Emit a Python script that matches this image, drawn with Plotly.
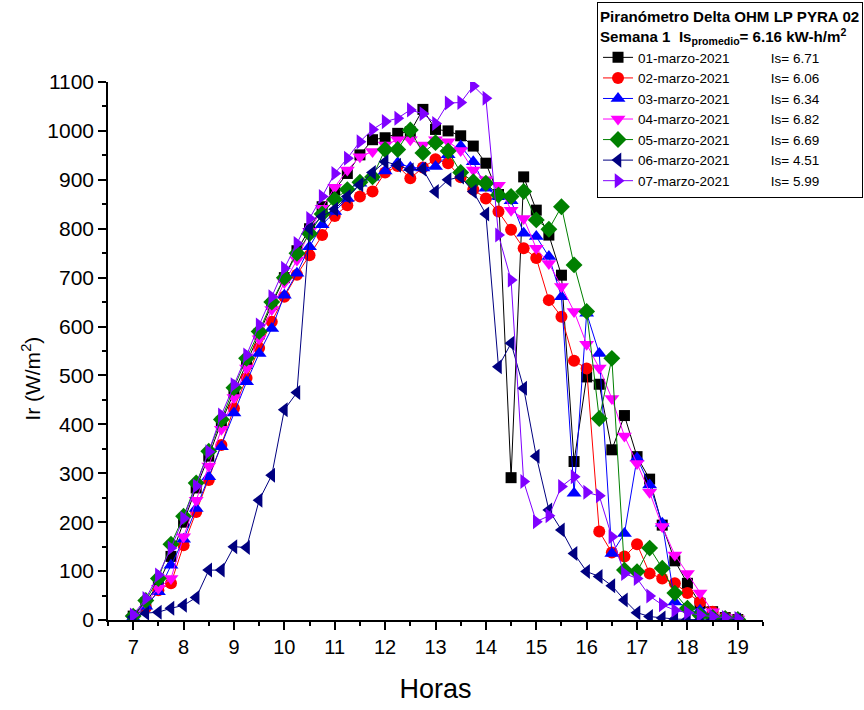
import plotly.graph_objects as go

horas = [7.0, 7.25, 7.5, 7.75, 8.0, 8.25, 8.5, 8.75, 9.0, 9.25, 9.5, 9.75,
         10.0, 10.25, 10.5, 10.75, 11.0, 11.25, 11.5, 11.75, 12.0, 12.25, 12.5, 12.75,
         13.0, 13.25, 13.5, 13.75, 14.0, 14.25, 14.5, 14.75, 15.0, 15.25, 15.5, 15.75,
         16.0, 16.25, 16.5, 16.75, 17.0, 17.25, 17.5, 17.75, 18.0, 18.25, 18.5, 18.75, 19.0]

d01 = [8, 35, 75, 130, 200, 270, 335, 405, 465, 525, 585, 645, 700, 755, 800, 845, 880, 913, 951, 982,
       986, 995, 998, 1044, 1003, 1000, 990, 969, 934, 870, 291, 906, 838, 787, 705, 324, 497, 482, 348,
       418, 334, 288, 194, 121, 75, 34, 17, 5, 1]
d02 = [5, 25, 61, 75, 153, 221, 286, 358, 433, 495, 556, 610, 661, 706, 746, 787, 826, 848, 866, 876,
       915, 928, 903, 925, 942, 934, 905, 880, 862, 835, 798, 760, 740, 654, 620, 530, 514, 181, 138,
       130, 155, 95, 85, 75, 55, 37, 17, 5, 2]
d03 = [5, 28, 58, 112, 165, 228, 293, 354, 423, 487, 545, 596, 664, 709, 763, 808, 835, 862, 893, 905,
       918, 935, 925, 924, 927, 951, 969, 937, 883, 866, 857, 791, 784, 743, 661, 259, 627, 545, 136,
       177, 331, 276, 198, 37, 27, 20, 8, 3, 1]
d04 = [5, 35, 65, 85, 170, 245, 315, 390, 455, 515, 575, 635, 690, 736, 795, 842, 885, 920, 947, 958,
       971, 982, 982, 971, 982, 978, 960, 920, 900, 889, 838, 821, 760, 729, 682, 631, 564, 515, 453,
       376, 320, 261, 191, 133, 95, 55, 17, 5, 2]
d05 = [8, 40, 85, 155, 212, 280, 345, 410, 475, 535, 590, 650, 700, 750, 790, 830, 860, 880, 895, 906,
       962, 962, 1002, 955, 976, 959, 915, 896, 893, 869, 866, 876, 818, 799, 845, 726, 631, 412, 535,
       102, 99, 147, 106, 55, 24, 10, 5, 3, 1]
d06 = [6, 14, 16, 24, 30, 46, 102, 102, 150, 148, 245, 296, 430, 465, 800, 825, 840, 866, 890, 915,
       937, 930, 920, 922, 876, 900, 906, 876, 830, 518, 566, 474, 335, 225, 184, 136, 99, 89, 70,
       41, 15, 7, 4, 2, 1, 0, 0, 0, 0]
d07 = [10, 44, 92, 147, 208, 274, 344, 419, 481, 542, 603, 661, 719, 770, 821, 866, 913, 944, 978, 1003,
       1019, 1026, 1043, 1035, 1015, 1057, 1058, 1092, 1067, 787, 695, 283, 201, 213, 273, 293, 261, 254,
       170, 95, 85, 49, 31, 20, 15, 10, 7, 5, 3]

fechas = ["01-marzo-2021", "02-marzo-2021", "03-marzo-2021", "04-marzo-2021",
          "05-marzo-2021", "06-marzo-2021", "07-marzo-2021"]
is_vals = ["6.71", "6.06", "6.34", "6.82", "6.69", "4.51", "5.99"]
series = [d01, d02, d03, d04, d05, d06, d07]
colors = ["#000000", "#FF0000", "#0000FF", "#FF00FF", "#008000", "#000080", "#8000FF"]
symbols = ["square", "circle", "triangle-up", "triangle-down", "diamond", "triangle-left", "triangle-right"]
sizes = [11, 12, 13, 13, 13, 13, 13]

FONT = "Liberation Sans, Arial, sans-serif"
fig = go.Figure()
for name, isv, ys, c, s, sz in zip(fechas, is_vals, series, colors, symbols, sizes):
    fig.add_trace(go.Scatter(
        x=horas, y=ys, mode="lines+markers",
        name=name + "\u00a0" * 11 + "Is= " + isv,
        line=dict(color=c, width=1),
        marker=dict(symbol=s, size=sz, color=c, line=dict(width=0)),
    ))

fig.update_layout(
    width=864, height=710,
    margin=dict(l=108, r=101, t=82, b=90, autoexpand=False),
    paper_bgcolor="white", plot_bgcolor="white",
    font=dict(family=FONT, color="black"),
    showlegend=True,
    legend=dict(
        x=0.7466, y=1.149, xanchor="left", yanchor="top",
        bordercolor="black", borderwidth=1, bgcolor="white",
        font=dict(family=FONT, size=13.5, color="black"),
        title=dict(text="<b>Piranómetro Delta OHM LP PYRA 02<br>Semana 1  Is<sub>promedio</sub>= 6.16 kW-h/m<sup>2</sup></b>",
                   font=dict(family=FONT, size=15.1, color="black")),
        itemsizing="trace",
    ),
    xaxis=dict(
        range=[6.5, 19.5], tickmode="array", tickvals=list(range(7, 20)),
        ticktext=[str(v) for v in range(7, 20)],
        showgrid=False, zeroline=False, showline=True, linecolor="black", linewidth=1.5,
        ticks="outside", ticklen=8, tickwidth=1.5, tickcolor="black",
        minor=dict(dtick=0.5, tick0=6.5, ticks="outside", ticklen=4, tickwidth=1.5, tickcolor="black"),
        tickfont=dict(family=FONT, size=20),
        title=dict(text="Horas", font=dict(family=FONT, size=27), standoff=22),
    ),
    yaxis=dict(
        range=[0, 1100], tickmode="linear", tick0=0, dtick=100,
        showgrid=False, zeroline=False, showline=True, linecolor="black", linewidth=1.5,
        ticks="outside", ticklen=8, tickwidth=1.5, tickcolor="black",
        minor=dict(dtick=50, ticks="outside", ticklen=4, tickwidth=1.5, tickcolor="black"),
        tickfont=dict(family=FONT, size=21),
    ),
    annotations=[dict(
        text="Ir (W/m<sup>2</sup>)", textangle=-90, showarrow=False,
        xref="paper", yref="paper", x=-0.118, y=0.448, xanchor="center", yanchor="middle",
        font=dict(family=FONT, size=21, color="black"),
    )],
)

fig.write_html("out.html")
